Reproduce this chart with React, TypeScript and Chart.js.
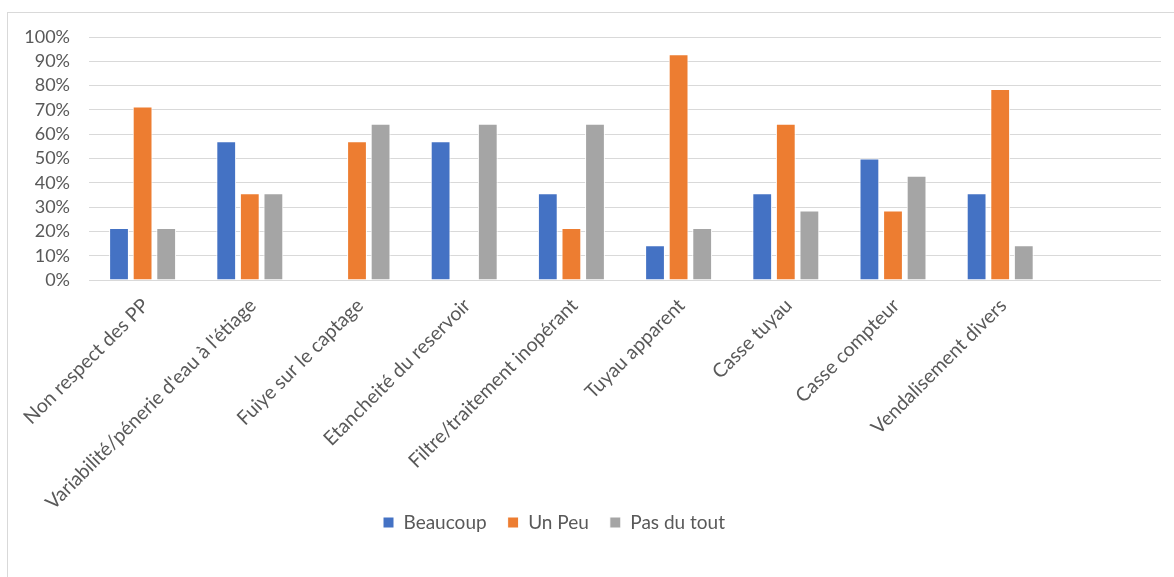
import { useEffect, useRef } from 'react';
import { Chart, registerables } from 'chart.js';

Chart.register(...registerables);

// Categories (the last slot is left empty, as in the workbook range)
const categories = [
  'Non respect des PP',
  "Variabilité/pénerie d'eau à l'étiage",
  'Fuiye sur le captage',
  'Etancheité du reservoir',
  'Filtre/traitement inopérant',
  'Tuyau apparent',
  'Casse tuyau',
  'Casse compteur',
  'Vendalisement divers',
  '',
];

// Share of answers, in percent
const beaucoup = [21.4, 57.1, 0, 57.1, 35.7, 14.3, 35.7, 50.0, 35.7, null];
const unPeu = [71.4, 35.7, 57.1, 0, 21.4, 92.9, 64.3, 28.6, 78.6, null];
const pasDuTout = [21.4, 35.7, 64.3, 64.3, 64.3, 21.4, 28.6, 42.9, 14.3, null];

const seriesNames = ['Beaucoup', 'Un Peu', 'Pas du tout'];
const seriesColors = ['#4472C4', '#ED7D31', '#A5A5A5'];

const yMin = 0;
const yMax = 100;
const yStep = 10;

const FONT = 'Lato, "Noto Sans", sans-serif';
const TEXT = '#595959';
const GRID = '#D9D9D9';

// canvas geometry
const CANVAS_LEFT = -53;
const CANVAS_W = 1227;
const CANVAS_H = 577;

// The long rotated category names run past the x-axis box (beside the legend);
// widen the axis' label clip region down to the canvas bottom.
const unclipCategoryLabels = {
  id: 'unclipCategoryLabels',
  afterLayout(chart: any) {
    const x = chart.scales.x;
    if (x) x.bottom = chart.height;
  },
};

export default function App() {
  const canvasRef = useRef<HTMLCanvasElement | null>(null);

  useEffect(() => {
    const canvas = canvasRef.current;
    if (!canvas) return;
    const values = [beaucoup, unPeu, pasDuTout];
    const chart = new Chart(canvas, {
      type: 'bar',
      data: {
        labels: categories,
        datasets: values.map((data, i) => ({
          label: seriesNames[i],
          data,
          backgroundColor: seriesColors[i],
          borderColor: '#FFFFFF',
          borderWidth: 1,
          barPercentage: 0.84,
          categoryPercentage: 0.66,
        })),
      },
      options: {
        responsive: false,
        animation: false,
        devicePixelRatio: 1,
        layout: { padding: { top: 37, right: 13, bottom: 35, left: 0 } },
        plugins: {
          tooltip: { enabled: false },
          legend: {
            position: 'bottom',
            labels: {
              boxWidth: 11,
              boxHeight: 11,
              padding: 21,
              color: TEXT,
              font: { family: FONT, size: 19 },
            },
          },
        },
        scales: {
          x: {
            grid: { display: false },
            border: { display: false },
            ticks: {
              autoSkip: false,
              minRotation: 45,
              maxRotation: 45,
              padding: 6,
              labelOffset: 3,
              color: TEXT,
              font: { family: FONT, size: 19.5 },
            },
            afterFit: (scale: any) => {
              scale.height = 212;
            },
          },
          y: {
            min: yMin,
            max: yMax,
            border: { display: false },
            grid: { color: GRID, lineWidth: 1, drawTicks: false },
            ticks: {
              autoSkip: false,
              stepSize: yStep,
              padding: 19,
              color: TEXT,
              font: { family: FONT, size: 18 },
              callback: (v: any) => `${v}%`,
            },
            afterFit: (scale: any) => {
              scale.width = 89 - CANVAS_LEFT;
            },
          },
        },
      },
      plugins: [unclipCategoryLabels],
    });
    return () => chart.destroy();
  }, []);

  return (
    <div
      style={{
        position: 'fixed',
        left: 0,
        top: 0,
        width: 1174,
        height: 577,
        overflow: 'hidden',
        background: '#FFFFFF',
      }}
    >
      <div
        style={{
          position: 'absolute',
          left: 7,
          top: 12,
          width: 1300,
          height: 700,
          borderTop: `1px solid ${GRID}`,
          borderLeft: `1px solid ${GRID}`,
        }}
      />
      <canvas
        ref={canvasRef}
        width={CANVAS_W}
        height={CANVAS_H}
        style={{ position: 'absolute', left: CANVAS_LEFT, top: 0, width: CANVAS_W, height: CANVAS_H }}
      />
    </div>
  );
}
